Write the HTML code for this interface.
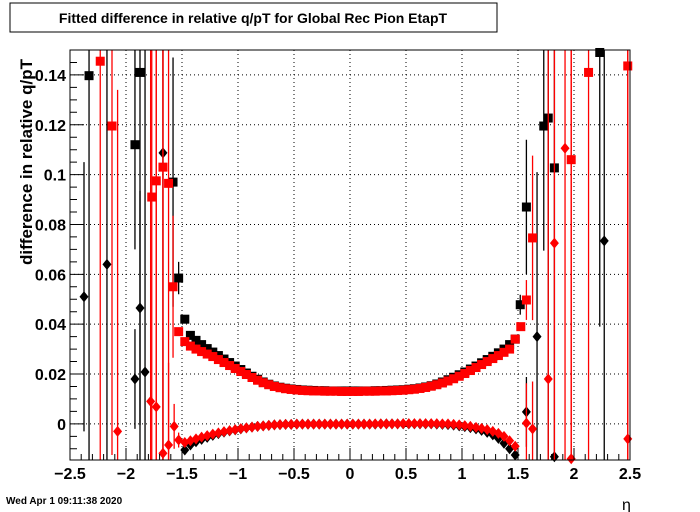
<!DOCTYPE html>
<html><head><meta charset="utf-8"><style>
body{margin:0;background:#fff;}
svg{display:block;font-family:"Liberation Sans",Arial,sans-serif;}
</style></head><body>
<svg id="c" width="700" height="512" viewBox="0 0 700 512">
<rect x="0" y="0" width="700" height="512" fill="#fff"/>
<rect x="10" y="3" width="487" height="29" fill="#fff" stroke="#000" stroke-width="1"/>
<text x="253" y="23" text-anchor="middle" font-size="14" font-weight="bold">Fitted difference in relative q/pT for Global Rec Pion EtapT</text>
<text transform="translate(32,162) rotate(-90)" text-anchor="middle" font-size="17" font-weight="bold">difference in relative q/pT</text>
<text x="622" y="510" font-size="16">η</text>
<text x="6" y="504" font-size="10" font-weight="bold">Wed Apr  1 09:11:38 2020</text>
<g id="grid"></g>
<g id="marks"></g>
<g id="axes"></g>
</svg>
<script>
const xTicks=[-2.5,-2,-1.5,-1,-0.5,0,0.5,1,1.5,2,2.5];
const xTickLabels=["−2.5","−2","−1.5","−1","−0.5","0","0.5","1","1.5","2","2.5"];
const yTicks=[0,0.02,0.04,0.06,0.08,0.1,0.12,0.14];
const yTickLabels=["0","0.02","0.04","0.06","0.08","0.1","0.12","0.14"];
const denseStart=-1.475, denseStep=0.05;
const redSquares=[0.0330,0.0312,0.0300,0.0290,0.0280,0.0270,0.0258,0.0246,0.0234,0.0222,0.0210,0.0198,0.0186,0.0175,0.0165,0.0157,0.0150,0.0145,0.0141,0.0138,0.0136,0.0134,0.0133,0.0132,0.0132,0.0131,0.0131,0.0131,0.0130,0.0130,
0.0130,0.0130,0.0131,0.0131,0.0131,0.0132,0.0132,0.0133,0.0134,0.0135,0.0137,0.0139,0.0142,0.0146,0.0151,0.0157,0.0164,0.0172,0.0181,0.0191,0.0202,0.0214,0.0226,0.0238,0.0250,0.0262,0.0274,0.0287,0.0300,0.0340];
const blackSquares=[0.0420,0.0355,0.0335,0.0318,0.0302,0.0288,0.0274,0.0260,0.0246,0.0232,0.0218,0.0204,0.0191,0.0179,0.0168,0.0159,0.0152,0.0147,0.0143,0.0140,0.0138,0.0136,0.0135,0.0134,0.0133,0.0133,0.0132,0.0132,0.0132,0.0132,
0.0132,0.0132,0.0132,0.0132,0.0133,0.0133,0.0134,0.0135,0.0136,0.0137,0.0139,0.0141,0.0144,0.0148,0.0153,0.0160,0.0168,0.0177,0.0187,0.0197,0.0208,0.0220,0.0232,0.0245,0.0258,0.0271,0.0285,0.0300,0.0318,0.0340];
const redDiamonds=[-0.0075,-0.0068,-0.0060,-0.0053,-0.0047,-0.0041,-0.0036,-0.0031,-0.0027,-0.0023,-0.0019,-0.0016,-0.0013,-0.0010,-0.0008,-0.0006,-0.0004,-0.0003,-0.0002,-0.0002,-0.0001,-0.0001,-0.0001,-0.0001,-0.0001,-0.0001,-0.0001,-0.0001,-0.0001,-0.0001,
-0.0001,-0.0001,-0.0001,-0.0001,0,0,0,0,0,0.0001,0.0001,0.0001,0.0001,0.0001,0.0001,0.0001,0,0,-0.0002,-0.0004,-0.0007,-0.0010,-0.0014,-0.0018,-0.0023,-0.0030,-0.0038,-0.0050,-0.0068,-0.0090];
const blackDiamonds=[-0.0105,-0.0085,-0.0072,-0.0062,-0.0054,-0.0046,-0.0039,-0.0033,-0.0028,-0.0024,-0.0020,-0.0016,-0.0013,-0.0010,-0.0008,-0.0006,-0.0004,-0.0003,-0.0002,-0.0002,-0.0001,-0.0001,-0.0001,-0.0001,-0.0001,-0.0001,-0.0001,-0.0001,-0.0001,-0.0001,
-0.0001,-0.0001,-0.0001,-0.0001,-0.0001,0,0,0,0,0,0,0,0,0,0,-0.0001,-0.0002,-0.0003,-0.0005,-0.0008,-0.0011,-0.0015,-0.0020,-0.0026,-0.0034,-0.0044,-0.0058,-0.0078,-0.0100,-0.0125];
// sparse points: eta, value, error (large = spans plot)
const bsEta=[-2.33,-1.875,-1.92,-1.58,-1.53,1.52,1.575,1.73,1.77,1.825,2.23];
const bsVal=[0.1397,0.141,0.112,0.097,0.0585,0.0478,0.087,0.1195,0.1227,0.1027,0.149];
const bsErr=[1,1,0.042,0.05,0.0065,0.004,0.027,0.05,1,1,0.11];
const bdEta=[-2.375,-2.17,-1.92,-1.875,-1.83,-1.67,1.575,1.67,1.825,2.27];
const bdVal=[0.051,0.064,0.018,0.0465,0.0208,0.1087,0.0048,0.035,-0.0132,0.0734];
const bdErr=[0.054,1,0.02,0.047,1,1,0.014,0.066,0.001,1];
const rsEta=[-2.23,-2.125,-1.77,-1.73,-1.67,-1.62,-1.58,-1.53,1.525,1.575,1.63,1.975,2.13,2.48];
const rsVal=[0.1455,0.1195,0.091,0.0975,0.103,0.0965,0.055,0.037,0.039,0.0497,0.0746,0.106,0.141,0.1436];
const rsErr=[1,0.132,1,1,1,1,0.0285,0.001,0.001,0.008,0.033,1,1,1];
const rdEta=[-2.075,-1.78,-1.73,-1.67,-1.62,-1.57,-1.53,1.575,1.63,1.77,1.825,1.92,1.975,2.48];
const rdVal=[-0.003,0.009,0.0068,-0.0118,-0.0085,-0.001,-0.0065,0.0003,-0.002,0.018,0.0725,0.1106,-0.014,-0.006];
const rdErr=[0.137,1,1,1,0.033,0.009,0.003,0.016,0.019,1,1,1,1,1];

const X0=70,X1=630,Y0=50,Y1=460,xmin=-2.5,xmax=2.5,ymin=-0.0145,ymax=0.15;
const sx=v=>X0+(v-xmin)/(xmax-xmin)*(X1-X0);
const sy=v=>Y1-(v-ymin)/(ymax-ymin)*(Y1-Y0);
const NS="http://www.w3.org/2000/svg";
function mk(tag,parent){const e=document.createElementNS(NS,tag);parent.appendChild(e);return e;}
const grid=document.getElementById('grid'),marks=document.getElementById('marks'),axes=document.getElementById('axes');
const clip=v=>Math.max(Y0,Math.min(Y1,v));

xTicks.forEach((t,i)=>{
  if(i>0&&i<xTicks.length-1){const l=mk('line',grid);
  
  
  l.setAttribute('x1',sx(t));l.setAttribute('x2',sx(t));l.setAttribute('y1',Y0);l.setAttribute('y2',Y1);
  l.setAttribute('stroke','#000');l.setAttribute('stroke-dasharray','1,3');}
  const tx=mk('text',axes);
  
  
  tx.setAttribute('x',sx(t));tx.setAttribute('y',479);tx.setAttribute('text-anchor','middle');
  tx.setAttribute('font-size','16');tx.setAttribute('font-weight','bold');tx.textContent=xTickLabels[i];
});
yTicks.forEach((t,i)=>{
  const l=mk('line',grid);
  
  
  l.setAttribute('x1',X0);l.setAttribute('x2',X1);l.setAttribute('y1',sy(t));l.setAttribute('y2',sy(t));
  l.setAttribute('stroke','#000');l.setAttribute('stroke-dasharray','1,3');
  const tx=mk('text',axes);
  
  
  tx.setAttribute('x',66);tx.setAttribute('y',sy(t)+6);tx.setAttribute('text-anchor','end');
  tx.setAttribute('font-size','16');tx.setAttribute('font-weight','bold');tx.textContent=yTickLabels[i];
});
// minor ticks
let ticks='';
for(let k=0;k<=50;k++){const v=xmin+k*0.1;const len=(k%5===0)?12:6;ticks+=`M${sx(v)},${Y1}v${-len}`;}
for(let k=-2;k<=30;k++){const v=k*0.005;if(v<ymin||v>ymax)continue;const len=(k%4===0)?14:7;ticks+=`M${X0},${sy(v)}h${len}`;}
const tp=mk('path',axes);


tp.setAttribute('d',ticks);tp.setAttribute('stroke','#000');tp.setAttribute('fill','none');
const fr=mk('rect',axes);


fr.setAttribute('x',X0);fr.setAttribute('y',Y0);fr.setAttribute('width',X1-X0);fr.setAttribute('height',Y1-Y0);
fr.setAttribute('fill','none');fr.setAttribute('stroke','#000');

function marker(shape,color,eta,val,name){
  const cx=sx(eta),cy=sy(val);
  if(cy<Y0-4||cy>Y1+4)return;
  let e;
  if(shape==='sq'){e=mk('rect',marks);e.setAttribute('x',cx-4.5);e.setAttribute('y',cy-4.5);e.setAttribute('width',9);e.setAttribute('height',9);}
  else{e=mk('polygon',marks);e.setAttribute('points',`${cx},${cy-5.5} ${cx+4.5},${cy} ${cx},${cy+5.5} ${cx-4.5},${cy}`);}
  e.setAttribute('fill',color);
  
  
}
function errbar(color,eta,val,err){
  const l=mk('line',marks);
  
  
  l.setAttribute('x1',sx(eta));l.setAttribute('x2',sx(eta));
  l.setAttribute('y1',clip(sy(val+err)));l.setAttribute('y2',clip(sy(val-err)));
  l.setAttribute('stroke',color);l.setAttribute('stroke-width','1.3');
}
function dense(arr,shape,color,name){arr.forEach((v,i)=>marker(shape,color,denseStart+i*denseStep,v,name));}
function sparse(et,vl,er,shape,color,name){et.forEach((e,i)=>errbar(color,e,vl[i],er[i]));et.forEach((e,i)=>marker(shape,color,e,vl[i],name));}

sparse(bsEta,bsVal,bsErr,'sq','#000','black-square-point');
sparse(bdEta,bdVal,bdErr,'di','#000','black-diamond-point');
dense(blackSquares,'sq','#000','black-square-point');
dense(blackDiamonds,'di','#000','black-diamond-point');
sparse(rsEta,rsVal,rsErr,'sq','#f00','red-square-point');
sparse(rdEta,rdVal,rdErr,'di','#f00','red-diamond-point');
dense(redSquares,'sq','#f00','red-square-point');
dense(redDiamonds,'di','#f00','red-diamond-point');
</script>
</body></html>
